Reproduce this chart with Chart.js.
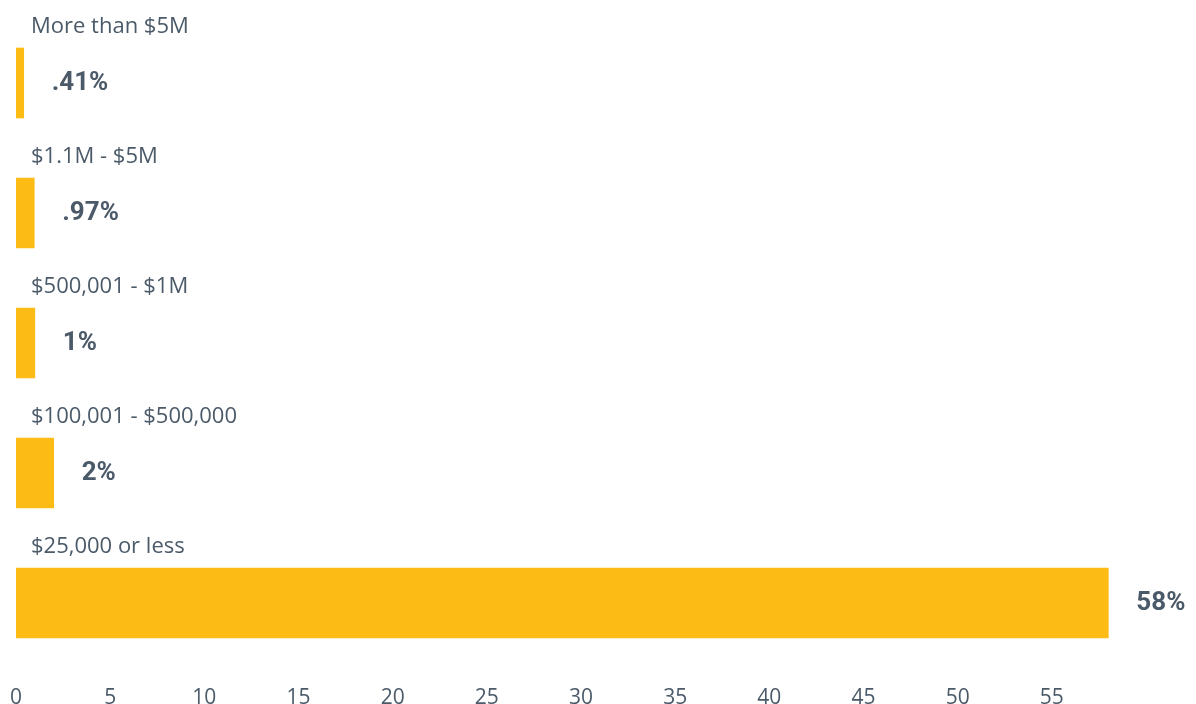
<!DOCTYPE html>
<html>
<head>
<meta charset="utf-8">
<script src="https://cdn.jsdelivr.net/npm/chart.js@4"></script>
<style>
  html, body { margin: 0; padding: 0; background: #fff; }
  .chart-container { width: 1196px; height: 704px; position: relative; }
</style>
</head>
<body>
<div class="chart-container">
  <canvas id="donationChart" width="1196" height="704"></canvas>
</div>
<script>
// Donation size brackets, top to bottom
const categories = ['More than $5M', '$1.1M - $5M', '$500,001 - $1M', '$100,001 - $500,000', '$25,000 or less'];
const shares = [0.41, 0.97, 1, 2, 58];
const shareLabels = ['.41%', '.97%', '1%', '2%', '58%'];
const xTicks = [0, 5, 10, 15, 20, 25, 30, 35, 40, 45, 50, 55];

const textColor = '#4b5a69';
const barColor = '#fcbc15';

// Writes the bracket name above each bar and the share to the right of it
const barLabels = {
    id: 'barLabels',
    afterDatasetsDraw(chart) {
        const ctx = chart.ctx;
        const meta = chart.getDatasetMeta(0);
        const left = chart.chartArea.left;
        ctx.save();
        meta.data.forEach((bar, i) => {
            const top = bar.y - bar.height / 2;
            ctx.fillStyle = textColor;
            ctx.font = '22px "Open Sans"';
            ctx.textAlign = 'left';
            ctx.textBaseline = 'alphabetic';
            ctx.fillText(categories[i], left + 15, top - 15);

            ctx.font = 'bold 26px Roboto';
            ctx.textBaseline = 'middle';
            ctx.fillText(shareLabels[i], bar.x + 28, bar.y);
        });
        ctx.restore();
    }
};

const ctx = document.getElementById('donationChart').getContext('2d');
new Chart(ctx, {
    type: 'bar',
    data: {
        labels: categories,
        datasets: [{
            data: shares,
            backgroundColor: barColor,
            borderWidth: 0,
            barThickness: 70
        }]
    },
    options: {
        indexAxis: 'y',
        responsive: false,
        animation: false,
        layout: {
            padding: { left: 16, right: 50, top: 18, bottom: 0 }
        },
        plugins: {
            legend: { display: false },
            tooltip: { enabled: false }
        },
        scales: {
            x: {
                min: 0,
                max: 60,
                grid: { display: false, drawTicks: false },
                border: { display: false },
                afterBuildTicks(axis) {
                    axis.ticks = xTicks.map(v => ({ value: v }));
                },
                afterFit(axis) {
                    axis.height = 36;
                    axis.paddingLeft = 0;
                    axis.paddingRight = 0;
                },
                ticks: {
                    color: textColor,
                    padding: 17,
                    maxRotation: 0,
                    font: { family: 'Open Sans', size: 21 }
                }
            },
            y: {
                display: false,
                grid: { display: false }
            }
        }
    },
    plugins: [barLabels]
});
</script>
</body>
</html>
